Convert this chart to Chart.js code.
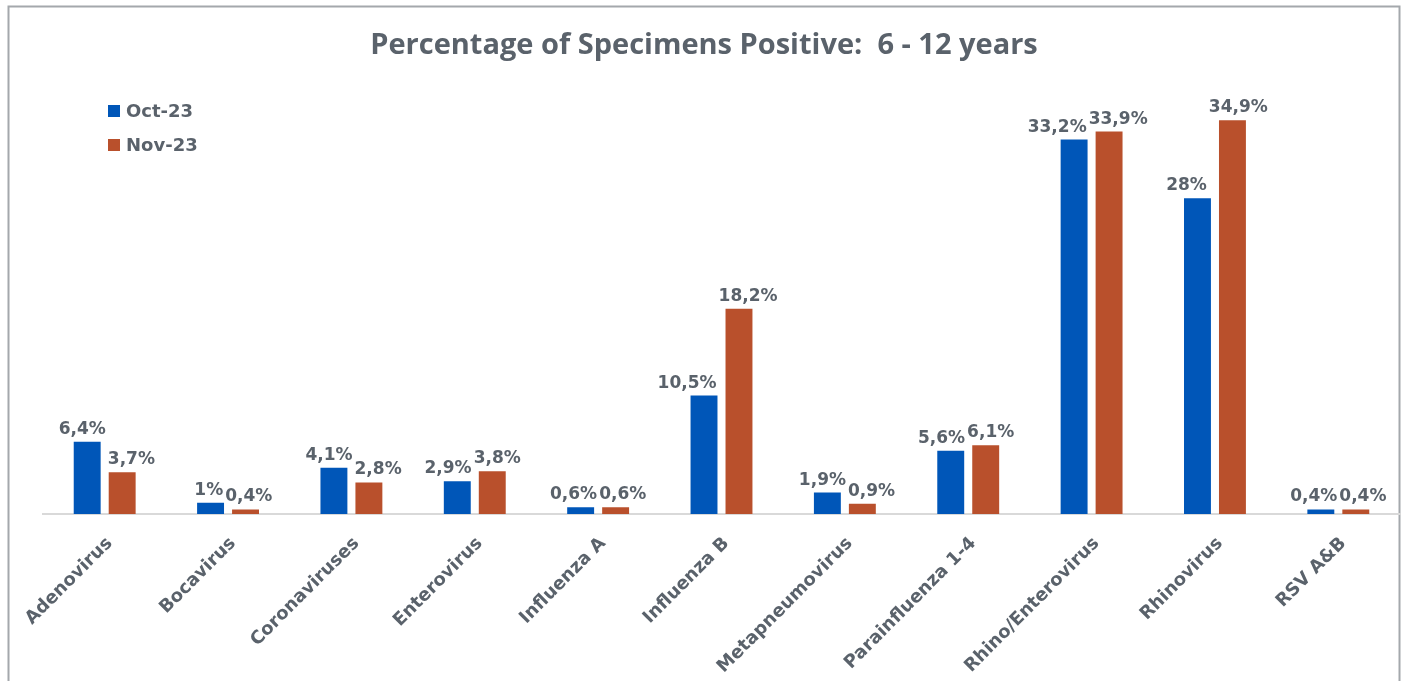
<!DOCTYPE html>
<html>
<head>
<meta charset="utf-8">
<script src="https://cdn.jsdelivr.net/npm/chart.js@4.4.0/dist/chart.umd.min.js"></script>
<style>
html,body{margin:0;padding:0;background:#fff;overflow:hidden;}
#wrap{position:absolute;left:0;top:0;width:1402px;height:681px;}
</style>
</head>
<body>
<div id="wrap"><canvas id="c" width="1402" height="681"></canvas></div>
<script>
const categories = ["Adenovirus","Bocavirus","Coronaviruses","Enterovirus","Influenza A","Influenza B","Metapneumovirus","Parainfluenza 1-4","Rhino/Enterovirus","Rhinovirus","RSV A&B"];
const oct23 = [6.4, 1, 4.1, 2.9, 0.6, 10.5, 1.9, 5.6, 33.2, 28, 0.4];
const nov23 = [3.7, 0.4, 2.8, 3.8, 0.6, 18.2, 0.9, 6.1, 33.9, 34.9, 0.4];
const seriesNames = ["Oct-23","Nov-23"];
const titleText = "Percentage of Specimens Positive:  6 - 12 years";

const TEXT = '#5a626b';
const BLUE = '#0056b8';
const ORANGE = '#b9502c';
const LABEL_FONT = 'bold 17px "DejaVu Sans"';

const borderPlugin = {
  id:'frame',
  beforeDraw(chart){
    const ctx = chart.ctx;
    ctx.save();
    ctx.fillStyle='#fff';
    ctx.fillRect(0,0,chart.width,chart.height);
    ctx.strokeStyle='#a4a8ac';
    ctx.lineWidth=2;
    ctx.strokeRect(8.5,6.5,1391,720);
    ctx.restore();
  }
};

const legendPlugin = {
  id:'insideLegend',
  afterDraw(chart){
    const ctx = chart.ctx;
    ctx.save();
    ctx.font = 'bold 18px "DejaVu Sans"';
    ctx.textBaseline = 'middle';
    ctx.textAlign = 'left';
    chart.data.datasets.forEach((ds,i)=>{
      const y = 111 + i*34;
      ctx.fillStyle = ds.backgroundColor;
      ctx.fillRect(108, y-6, 12, 12);
      ctx.fillStyle = TEXT;
      ctx.fillText(ds.label, 126, y+1);
    });
    ctx.restore();
  }
};

function fmt(v){ return String(v).replace('.', ',') + '%'; }

const valueLabelPlugin = {
  id:'valueLabels',
  afterDatasetsDraw(chart){
    const ctx = chart.ctx;
    ctx.save();
    ctx.font = LABEL_FONT;
    ctx.fillStyle = TEXT;
    ctx.textAlign = 'center';
    ctx.textBaseline = 'alphabetic';
    const m0 = chart.getDatasetMeta(0), m1 = chart.getDatasetMeta(1);
    const d0 = chart.data.datasets[0].data, d1 = chart.data.datasets[1].data;
    for(let i=0;i<categories.length;i++){
      const b0 = m0.data[i], b1 = m1.data[i];
      const t0 = fmt(d0[i]), t1 = fmt(d1[i]);
      const w0 = ctx.measureText(t0).width, w1 = ctx.measureText(t1).width;
      let x0 = b0.x, x1 = b1.x;
      const y0 = b0.y - 8, y1 = b1.y - 8;
      const need = (w0 + w1)/2 + 2;
      const deficit = need - (x1 - x0);
      if(deficit > 0){
        const a = (y0 > y1) ? 0.65 : (y0 < y1 ? 0.35 : 0.5);
        x0 -= deficit*a;
        x1 += deficit*(1-a);
      }
      ctx.fillText(t0, x0, y0);
      ctx.fillText(t1, x1, y1);
    }
    ctx.restore();
  }
};

new Chart(document.getElementById('c'), {
  type:'bar',
  data:{
    labels: categories,
    datasets:[
      {label: seriesNames[0], data: oct23, backgroundColor: BLUE, borderWidth:0},
      {label: seriesNames[1], data: nov23, backgroundColor: ORANGE, borderWidth:0}
    ]
  },
  options:{
    responsive:false,
    animation:false,
    devicePixelRatio:1,
    categoryPercentage:0.567,
    barPercentage:0.77,
    layout:{padding:{left:8,right:2,top:0,bottom:0}},
    plugins:{
      legend:{display:false},
      tooltip:{enabled:false},
      title:{
        display:true,
        text:titleText,
        color:TEXT,
        font:{family:'"Open Sans"', size:29, weight:'bold', lineHeight:1.2},
        padding:{top:28,bottom:0}
      }
    },
    scales:{
      x:{
        grid:{display:false},
        border:{display:true,color:'#d9d9d9',width:2},
        ticks:{
          color:TEXT,
          font:{family:'DejaVu Sans', size:18, weight:'bold'},
          minRotation:45,maxRotation:45,autoSkip:false,padding:11,labelOffset:5
        },
        afterFit(scale){ scale.height = 167; }
      },
      y:{
        display:true,
        min:0,max:40,
        grid:{display:false,drawTicks:false},
        border:{display:false},
        ticks:{display:false},
        afterFit(scale){ scale.width = 35; }
      }
    }
  },
  plugins:[borderPlugin, legendPlugin, valueLabelPlugin]
});
</script>
</body>
</html>
